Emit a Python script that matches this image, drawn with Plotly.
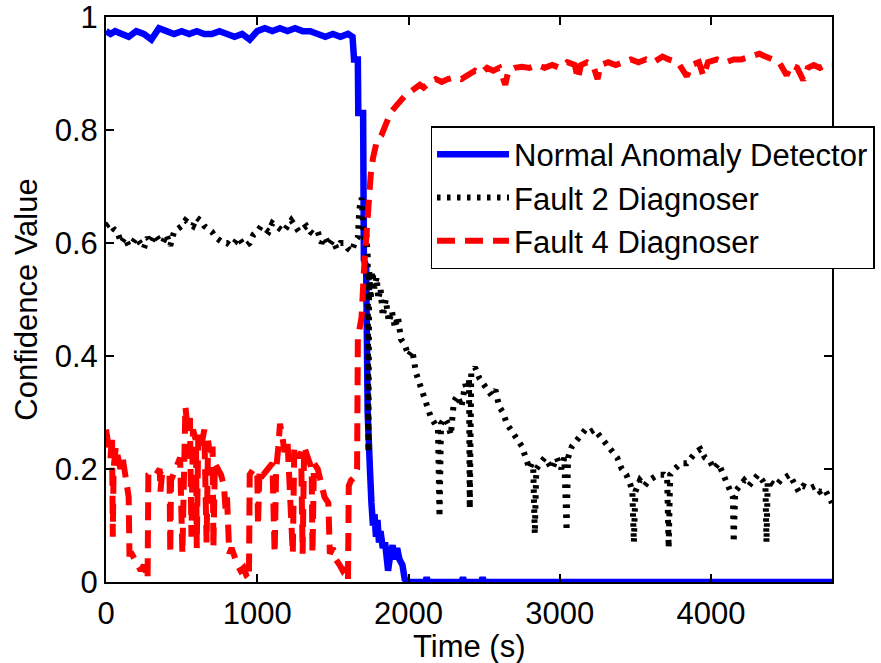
import plotly.graph_objects as go

# ---------------- data ----------------
normal_x = [0, 30, 60, 100, 150, 200, 250, 300, 350, 400, 450, 500, 550, 600, 650, 700, 750, 800,
            850, 900, 950, 1000, 1050, 1100, 1150, 1200, 1250, 1300, 1350, 1400, 1450, 1500, 1550,
            1600, 1630, 1640, 1665, 1668, 1700, 1705, 1720, 1730, 1735, 1745, 1755, 1765, 1775, 1785,
            1795, 1805, 1815, 1830, 1845, 1855, 1865, 1880, 1895, 1910, 1925, 1940, 1960, 1975, 2000,
            2110, 2120, 2130, 2350, 2360, 2370, 2480, 2490, 2500, 4800]
normal_y = [0.975, 0.97, 0.975, 0.97, 0.965, 0.975, 0.97, 0.96, 0.98, 0.975, 0.97, 0.975, 0.97,
            0.975, 0.97, 0.97, 0.975, 0.97, 0.965, 0.97, 0.96, 0.975, 0.98, 0.975, 0.98, 0.975, 0.98,
            0.975, 0.975, 0.97, 0.965, 0.97, 0.965, 0.97, 0.965, 0.925, 0.925, 0.83, 0.83, 0.57, 0.56,
            0.3, 0.24, 0.2, 0.14, 0.1, 0.12, 0.08, 0.11, 0.07, 0.09, 0.06, 0.07, 0.04, 0.02, 0.05,
            0.065, 0.04, 0.06, 0.04, 0.03, 0.005, 0.0, 0.0, 0.008, 0.0, 0.0, 0.008, 0.0, 0.0, 0.008,
            0.0, 0.0]

fault2_x = [0, 25, 50, 75, 100, 125, 150, 175, 200, 225, 250, 275, 300, 325, 350, 375, 400, 425,
            450, 475, 500, 525, 550, 575, 600, 625, 650, 675, 700, 725, 750, 775, 800, 825, 850, 875,
            900, 925, 950, 975, 1000, 1025, 1050, 1075, 1100, 1125, 1150, 1175, 1200, 1225, 1250,
            1275, 1300, 1325, 1350, 1375, 1400, 1425, 1450, 1475, 1500, 1525, 1550, 1575, 1600, 1625,
            1650, 1665, 1675, 1690, 1700, 1710, 1720, 1730, 1735, 1740, 1750, 1760, 1775, 1790, 1800,
            1815, 1830, 1850, 1870, 1890, 1910, 1930, 1950, 1975, 2000, 2025, 2050, 2075, 2100, 2125,
            2150, 2175, 2195, 2205, 2215, 2240, 2260, 2280, 2300, 2325, 2350, 2375, 2390, 2400, 2405,
            2415, 2440, 2470, 2500, 2525, 2550, 2575, 2600, 2625, 2650, 2675, 2700, 2725, 2750, 2775,
            2800, 2815, 2825, 2835, 2845, 2870, 2900, 2950, 2980, 3010, 3030, 3045, 3055, 3080, 3110,
            3140, 3170, 3200, 3230, 3260, 3290, 3320, 3350, 3380, 3410, 3440, 3470, 3480, 3490, 3500,
            3530, 3560, 3590, 3620, 3650, 3690, 3710, 3720, 3730, 3760, 3800, 3840, 3870, 3900, 3930,
            3960, 3990, 4020, 4050, 4080, 4110, 4130, 4145, 4150, 4160, 4190, 4220, 4250, 4280, 4310,
            4340, 4360, 4367, 4375, 4400, 4430, 4460, 4490, 4520, 4550, 4580, 4610, 4650, 4690, 4720,
            4750, 4780, 4800]
fault2_y = [0.63, 0.635, 0.625, 0.62, 0.6, 0.61, 0.595, 0.6, 0.61, 0.6, 0.59, 0.61, 0.6, 0.615,
            0.605, 0.6, 0.615, 0.595, 0.62, 0.625, 0.63, 0.64, 0.635, 0.63, 0.645, 0.64, 0.63, 0.625,
            0.62, 0.61, 0.605, 0.6, 0.6, 0.595, 0.6, 0.61, 0.6, 0.595, 0.6, 0.615, 0.62, 0.63, 0.625,
            0.62, 0.635, 0.63, 0.625, 0.62, 0.63, 0.64, 0.63, 0.62, 0.625, 0.63, 0.62, 0.615, 0.62,
            0.6, 0.61, 0.595, 0.605, 0.59, 0.6, 0.6, 0.59, 0.585, 0.605, 0.61, 0.66, 0.68, 0.63, 0.6,
            0.62, 0.58, 0.23, 0.55, 0.5, 0.55, 0.52, 0.54, 0.5, 0.52, 0.47, 0.5, 0.46, 0.48, 0.45,
            0.47, 0.43, 0.42, 0.4, 0.41, 0.37, 0.35, 0.33, 0.31, 0.29, 0.28, 0.27, 0.115, 0.28, 0.29,
            0.28, 0.26, 0.32, 0.33, 0.31, 0.35, 0.34, 0.36, 0.13, 0.37, 0.38, 0.36, 0.35, 0.34, 0.33,
            0.34, 0.31, 0.3, 0.28, 0.27, 0.26, 0.25, 0.24, 0.22, 0.2, 0.21, 0.2, 0.085, 0.2, 0.21,
            0.22, 0.2, 0.22, 0.2, 0.22, 0.09, 0.22, 0.24, 0.25, 0.26, 0.27, 0.265, 0.27, 0.26, 0.25,
            0.24, 0.23, 0.22, 0.2, 0.19, 0.17, 0.16, 0.07, 0.16, 0.18, 0.17, 0.18, 0.185, 0.19, 0.19,
            0.185, 0.06, 0.19, 0.2, 0.21, 0.21, 0.22, 0.23, 0.235, 0.22, 0.215, 0.2, 0.21, 0.19, 0.17,
            0.16, 0.15, 0.07, 0.16, 0.17, 0.18, 0.17, 0.18, 0.19, 0.18, 0.17, 0.07, 0.18, 0.175, 0.17,
            0.18, 0.185, 0.19, 0.175, 0.16, 0.17, 0.165, 0.17, 0.16, 0.165, 0.15, 0.14]

fault4_x = [0, 15, 30, 40, 45, 50, 65, 80, 95, 110, 125, 140, 150, 155, 170, 190, 210, 230, 250,
            265, 275, 280, 300, 330, 355, 360, 370, 400, 420, 425, 430, 460, 490, 505, 515, 525, 540,
            555, 565, 575, 595, 600, 610, 630, 650, 665, 675, 690, 705, 710, 720, 740, 760, 780, 790,
            800, 815, 830, 850, 870, 890, 910, 930, 945, 950, 975, 1000, 1005, 1015, 1040, 1070, 1100,
            1115, 1125, 1140, 1150, 1165, 1180, 1200, 1235, 1245, 1270, 1290, 1300, 1310, 1335, 1360,
            1365, 1375, 1400, 1420, 1445, 1470, 1480, 1500, 1520, 1545, 1565, 1580, 1590, 1600, 1605,
            1620, 1640, 1655, 1660, 1665, 1690, 1705, 1720, 1735, 1750, 1765, 1790, 1820, 1850, 1880,
            1910, 1940, 1975, 2000, 2025, 2050, 2075, 2100, 2140, 2180, 2220, 2260, 2300, 2350, 2400,
            2440, 2480, 2520, 2560, 2600, 2640, 2660, 2700, 2750, 2800, 2850, 2900, 2950, 3000, 3050,
            3100, 3120, 3140, 3180, 3220, 3250, 3270, 3320, 3370, 3420, 3470, 3520, 3570, 3620, 3680,
            3720, 3780, 3840, 3870, 3920, 3950, 3980, 4040, 4100, 4150, 4200, 4260, 4320, 4360, 4400,
            4450, 4500, 4530, 4570, 4610, 4640, 4680, 4720, 4760, 4800]
fault4_y = [0.27, 0.25, 0.22, 0.26, 0.08, 0.2, 0.24, 0.22, 0.2, 0.22, 0.19, 0.17, 0.15, 0.05, 0.05,
            0.04, 0.03, 0.02, 0.03, 0.01, 0.005, 0.19, 0.195, 0.19, 0.2, 0.16, 0.19, 0.185, 0.19,
            0.05, 0.18, 0.2, 0.22, 0.05, 0.3, 0.31, 0.27, 0.29, 0.08, 0.27, 0.25, 0.06, 0.26, 0.24,
            0.27, 0.07, 0.25, 0.22, 0.24, 0.06, 0.21, 0.2, 0.19, 0.17, 0.13, 0.15, 0.05, 0.06, 0.04,
            0.03, 0.02, 0.025, 0.01, 0.005, 0.19, 0.2, 0.195, 0.1, 0.2, 0.19, 0.2, 0.21, 0.05, 0.2,
            0.24, 0.28, 0.26, 0.23, 0.25, 0.05, 0.24, 0.22, 0.23, 0.05, 0.24, 0.22, 0.2, 0.05, 0.21,
            0.2, 0.18, 0.15, 0.14, 0.05, 0.06, 0.04, 0.03, 0.02, 0.025, 0.01, 0.005, 0.17, 0.18,
            0.185, 0.2, 0.2, 0.43, 0.47, 0.55, 0.62, 0.68, 0.72, 0.75, 0.78, 0.79, 0.81, 0.83, 0.84,
            0.85, 0.86, 0.865, 0.87, 0.875, 0.88, 0.875, 0.885, 0.89, 0.885, 0.89, 0.893, 0.89, 0.9,
            0.905, 0.9, 0.91, 0.905, 0.91, 0.88, 0.905, 0.91, 0.912, 0.91, 0.915, 0.91, 0.915, 0.91,
            0.92, 0.915, 0.89, 0.915, 0.92, 0.915, 0.89, 0.915, 0.92, 0.915, 0.92, 0.925, 0.92, 0.925,
            0.92, 0.93, 0.925, 0.92, 0.895, 0.915, 0.92, 0.895, 0.92, 0.925, 0.92, 0.925, 0.925, 0.93,
            0.935, 0.93, 0.925, 0.92, 0.897, 0.915, 0.91, 0.888, 0.91, 0.915, 0.91, 0.915, 0.915]

series_names = ["Normal Anomaly Detector", "Fault 2 Diagnoser", "Fault 4 Diagnoser"]
x_ticks = [0, 1000, 2000, 3000, 4000]
y_ticks = [0, 0.2, 0.4, 0.6, 0.8, 1]
y_tick_text = ["0", "0.2", "0.4", "0.6", "0.8", "1"]
x_title = "Time (s)"
y_title = "Confidence Value"

FONT = "Liberation Sans, Arial, sans-serif"
FS = 31

fig = go.Figure()
fig.add_trace(go.Scatter(x=normal_x, y=normal_y, mode="lines", name=series_names[0],
                         legendgroup="a",
                         line=dict(color="#0000ff", width=6.5)))
fig.add_trace(go.Scatter(x=fault2_x, y=fault2_y, mode="lines", name=series_names[1],
                         legendgroup="b",
                         line=dict(color="#000000", width=6, dash="3.5px,6.5px")))
fig.add_trace(go.Scatter(x=fault4_x, y=fault4_y, mode="lines", name=series_names[2],
                         legendgroup="c",
                         line=dict(color="#ff0000", width=6, dash="18px,10px")))

axis_common = dict(showline=True, linecolor="black", linewidth=2, mirror="ticks",
                   ticks="inside", ticklen=8, tickwidth=1.5, tickcolor="black",
                   showgrid=False, zeroline=False, ticklabeloverflow="allow",
                   automargin=False,
                   tickfont=dict(family=FONT, size=FS, color="black"))

fig.update_layout(
    width=881, height=663,
    margin=dict(l=106, r=49, t=17, b=81, autoexpand=False),
    paper_bgcolor="white", plot_bgcolor="white",
    font=dict(family=FONT, size=FS, color="black"),
    xaxis=dict(range=[0, 4800], tickvals=x_ticks, ticklabelstandoff=3, **axis_common),
    yaxis=dict(range=[0, 1], tickvals=y_ticks, ticktext=y_tick_text,
               title=dict(text=y_title, font=dict(family=FONT, size=FS), standoff=8),
               **axis_common),
    legend=dict(x=0.447, y=0.807, xanchor="left", yanchor="top",
                bgcolor="white", bordercolor="black", borderwidth=1.5,
                font=dict(family=FONT, size=FS, color="black"),
                itemwidth=72, tracegroupgap=0),
    showlegend=True,
)
fig.add_annotation(text=x_title, xref="paper", yref="paper", x=0.5, y=-0.1133,
                   xanchor="center", yanchor="middle", showarrow=False,
                   font=dict(family=FONT, size=FS, color="black"))

fig.write_html("out.html")
